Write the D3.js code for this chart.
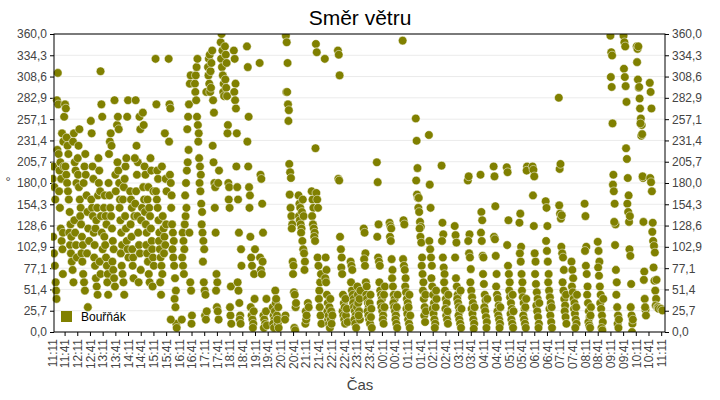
<!DOCTYPE html>
<html><head><meta charset="utf-8">
<script src="https://cdn.jsdelivr.net/npm/d3@7"></script>
<style>body{margin:0;background:#fff}svg{font-family:"Liberation Sans",Arial,sans-serif}</style>
</head><body><svg id="c" width="720" height="400"></svg>
<script>
const title = "Směr větru";
const seriesName = "Bouřňák";
const xTitle = "Čas";
const yTitle = "°";
const yTicks = [0, 25.7, 51.4, 77.1, 102.9, 128.6, 154.3, 180, 205.7, 231.4, 257.1, 282.9, 308.6, 334.3, 360];
const startHour = 11, startMinute = 11; // minute offsets counted from 11:11
const tickMinutes = d3.range(0, 1441, 30);
// [minutes since 11:11, wind direction in degrees]
const observations = [
[2,185],[4,200],[6,175],[8,160],[3,115],[5,95],[7,80],[9,60],[10,50],[12,280],[14,313],[15,275],[13,220],[16,215],[18,195],[20,205],[22,185],[17,170],[19,150],[21,125],[23,110],[25,100],[26,120],[28,200],[27,230],[24,240],[29,260],[11,40],[26,70],
[31,275],[33,270],[35,235],[37,225],[39,215],[32,200],[34,190],[36,180],[38,170],[40,160],[42,145],[44,130],[41,120],[43,105],[45,95],[47,85],[49,75],[46,115],[50,230],[52,240],[54,205],[56,195],[58,180],[53,135],[55,120],[57,105],[59,90],[51,60],
[61,210],[63,225],[65,245],[62,190],[64,175],[66,160],[68,150],[67,140],[69,130],[71,115],[73,105],[70,95],[72,85],[74,70],[76,60],[78,50],[75,180],[77,200],[79,215],[80,190],[82,165],[84,145],[86,125],[88,110],[83,95],[85,30],
[92,255],[94,240],[96,200],[98,185],[93,160],[95,150],[97,140],[99,120],[101,105],[100,90],[102,80],[104,65],[106,55],[108,45],[103,125],[105,135],[107,150],[109,165],[111,180],[110,210],[112,195],[114,170],[116,140],[118,120],[120,100],[113,85],[115,70],[117,275],[119,260],[115,315],
[123,150],[125,165],[127,140],[129,130],[124,115],[126,105],[128,90],[130,80],[132,70],[131,60],[133,45],[135,215],[137,230],[139,240],[141,225],[134,180],[136,165],[138,150],[140,140],[142,125],[144,110],[146,100],[143,85],[145,75],[147,65],[149,55],[148,280],[150,190],[151,170],
[154,250],[156,260],[158,245],[155,205],[157,195],[159,180],[161,160],[160,150],[162,135],[164,120],[166,105],[163,95],[165,80],[167,70],[169,60],[171,45],[168,160],[170,175],[172,185],[174,200],[176,210],[173,140],[175,125],[177,110],[179,100],[181,90],[178,260],[180,280],
[185,170],[187,160],[189,150],[186,130],[188,115],[190,100],[192,90],[191,80],[193,65],[195,140],[197,155],[199,170],[201,190],[203,205],[196,210],[198,280],[200,225],[202,140],[204,120],[206,105],[208,95],[210,75],[205,60],[207,260],[209,245],[211,135],[213,150],
[215,265],[217,250],[219,200],[221,190],[216,175],[218,160],[220,145],[222,130],[224,120],[223,105],[225,95],[227,85],[229,70],[231,60],[226,160],[228,175],[230,150],[232,140],[234,125],[236,110],[233,210],[235,195],[237,100],[239,90],[241,80],[238,55],[240,170],
[245,330],[247,275],[249,195],[251,185],[246,170],[248,160],[250,150],[252,135],[254,120],[253,110],[255,100],[257,90],[259,80],[261,70],[256,60],[258,45],[260,200],[262,140],[264,125],[266,115],[268,105],[265,95],[267,240],[269,185],[271,170],[270,130],
[276,330],[278,275],[280,270],[277,230],[279,190],[281,180],[283,165],[282,150],[284,130],[286,120],[288,110],[285,100],[287,90],[289,80],[291,65],[293,50],[290,40],[292,30],[294,10],[295,5],[281,15],
[307,15],[309,120],[311,110],[313,100],[308,90],[310,80],[312,70],[314,130],[316,140],[318,150],[315,165],[317,180],[319,195],[321,205],[323,220],[320,245],[322,260],[324,275],[326,300],[328,310],[325,120],[327,60],[329,50],[331,20],[330,10],
[338,300],[340,310],[342,320],[344,330],[339,290],[341,280],[343,260],[345,250],[347,240],[346,230],[348,210],[350,200],[352,190],[349,180],[351,170],[353,155],[355,145],[354,130],[356,120],[358,110],[360,100],[357,85],[359,60],[361,50],[363,45],[362,20],[364,15],[366,25],[365,290],
[369,320],[371,330],[373,335],[370,310],[372,300],[374,290],[376,295],[375,315],[377,325],[379,340],[381,280],[383,265],[380,225],[382,205],[384,180],[386,175],[385,150],[387,120],[389,70],[391,60],[388,50],[390,30],[392,25],[394,15],[393,180],[395,195],
[399,350],[401,360],[403,340],[400,330],[402,320],[404,310],[406,300],[405,290],[407,285],[409,345],[411,335],[413,325],[410,305],[412,295],[414,285],[416,250],[415,240],[417,180],[419,175],[418,160],[420,150],[422,20],[424,10],[421,30],[423,55],
[430,340],[432,330],[434,300],[431,290],[433,280],[435,270],[437,240],[436,200],[438,175],[440,160],[442,120],[439,60],[441,50],[443,35],[445,20],[444,15],[446,10],[448,80],[447,100],
[461,345],[463,320],[465,260],[462,230],[464,200],[466,175],[468,165],[467,150],[469,115],[471,90],[473,80],[470,30],[472,20],[474,15],[476,10],[475,5],[477,25],[479,40],[478,70],[480,100],
[491,325],[493,190],[495,185],[497,155],[499,120],[492,90],[494,75],[496,70],[498,85],[500,20],[502,15],[504,10],[501,5],[506,25],[508,8],[507,40],
[522,30],[524,20],[526,15],[523,10],[525,5],[527,25],[529,35],[528,50],[530,40],[532,20],[534,10],[536,5],[533,15],[535,30],
[553,358],[555,350],[557,325],[554,290],[556,290],[558,275],[560,268],[559,255],[561,203],[563,193],[565,186],[562,166],[564,150],[566,140],[568,130],[567,125],[569,85],[571,80],[570,70],[572,48],[574,45],[573,5],[575,2],[576,30],[577,35],[552,20],[551,15],
[583,165],[585,155],[587,150],[584,140],[586,135],[588,130],[590,125],[589,120],[591,145],[593,160],[595,140],[592,110],[594,100],[596,95],[598,85],[597,75],[599,10],[601,15],[600,25],[602,20],[605,35],[607,30],
[614,170],[616,160],[618,150],[615,140],[617,130],[619,125],[621,120],[620,115],[622,110],[624,348],[626,338],[623,222],[625,168],[627,160],[629,150],[628,90],[630,80],[632,50],[631,40],[633,30],[635,20],[637,10],[634,60],[636,70],
[645,330],[647,90],[649,75],[646,65],[648,60],[650,45],[652,35],[651,25],[653,15],[655,10],[657,5],[654,20],[656,30],[658,40],[660,25],[659,15],[661,10],[663,20],
[676,340],[678,335],[680,310],[677,185],[679,183],[681,115],[683,100],[685,90],[684,78],[686,70],[688,45],[690,35],[687,25],[689,20],[691,15],[693,10],[692,30],[694,40],[695,20],[697,28],[699,12],
[706,85],[708,80],[710,75],[707,60],[709,50],[711,45],[713,40],[712,35],[714,30],[716,25],[718,20],[715,15],[717,10],[719,5],[721,30],[723,45],[722,55],[724,35],[726,25],[728,15],[725,20],[727,40],[729,50],
[737,125],[739,120],[741,95],[738,88],[740,80],[742,60],[744,55],[743,45],[745,40],[747,35],[749,30],[746,25],[748,20],[750,15],[752,10],[751,35],[753,45],[755,28],[754,18],[756,5],
[768,205],[770,181],[772,130],[769,115],[771,90],[773,85],[775,80],[774,60],[776,50],[778,45],[780,40],[777,35],[779,30],[781,25],[783,20],[782,15],[784,10],[786,30],[785,45],[787,55],
[798,132],[800,128],[802,125],[799,115],[801,110],[803,88],[805,75],[804,65],[806,55],[808,45],[810,40],[807,35],[809,30],[811,25],[813,20],[812,15],[814,10],[816,5],[815,30],[817,45],
[829,352],[831,135],[833,130],[830,88],[832,80],[834,75],[836,65],[835,55],[837,48],[839,40],[841,35],[838,28],[840,22],[842,15],[844,10],[843,30],[845,45],[847,20],[846,5],
[860,258],[862,231],[864,198],[861,183],[863,166],[865,162],[867,162],[866,150],[868,145],[870,133],[872,127],[869,125],[871,115],[873,108],[875,90],[874,80],[876,70],[878,60],[877,50],[879,40],[881,30],[880,20],[882,12],[884,25],[883,45],
[891,238],[893,178],[895,150],[892,110],[894,100],[896,90],[898,80],[897,65],[899,55],[901,45],[903,35],[900,28],[902,22],[904,15],[906,10],[905,5],[907,30],[909,40],[908,50],
[921,201],[923,132],[925,118],[922,110],[924,90],[926,78],[928,70],[927,60],[929,50],[931,40],[933,35],[930,28],[932,20],[934,15],[936,10],[935,25],[937,45],
[952,128],[954,117],[956,108],[953,90],[955,65],[957,55],[959,45],[958,40],[960,35],[962,30],[964,25],[961,20],[963,15],[965,10],[967,5],[966,50],[968,28],
[983,183],[985,188],[987,118],[984,110],[986,95],[988,90],[990,76],[989,60],[991,50],[993,42],[995,35],[992,28],[994,22],[996,15],[998,10],[997,4],[999,30],
[1013,190],[1015,145],[1017,135],[1014,120],[1016,110],[1018,92],[1020,90],[1019,70],[1021,58],[1023,45],[1025,38],[1022,30],[1024,25],[1026,18],[1028,12],[1027,5],[1029,40],
[1044,200],[1046,188],[1048,152],[1045,115],[1047,112],[1049,92],[1051,70],[1050,55],[1052,45],[1054,40],[1056,32],[1053,25],[1055,20],[1057,15],[1059,10],[1058,5],[1060,30],
[1075,199],[1077,193],[1079,135],[1076,105],[1078,80],[1080,70],[1082,60],[1081,50],[1083,42],[1085,35],[1087,28],[1084,22],[1086,15],[1088,10],[1090,5],[1089,45],[1091,25],
[1105,132],[1107,143],[1109,103],[1106,95],[1108,85],[1110,70],[1112,60],[1111,50],[1113,42],[1115,35],[1117,28],[1114,20],[1116,15],[1118,10],[1120,5],[1119,30],[1121,40],[1123,200],[1122,195],
[1136,200],[1138,196],[1140,188],[1137,165],[1139,128],[1141,95],[1143,85],[1142,70],[1144,58],[1146,48],[1148,40],[1145,32],[1147,25],[1149,18],[1151,10],[1150,5],[1152,35],
[1167,158],[1169,150],[1171,128],[1168,110],[1170,98],[1172,85],[1174,70],[1173,60],[1175,50],[1177,42],[1179,35],[1176,28],[1178,20],[1180,12],[1182,5],[1181,30],
[1198,283],[1200,197],[1202,203],[1199,153],[1201,143],[1203,137],[1205,141],[1204,103],[1206,95],[1208,90],[1210,75],[1207,60],[1209,50],[1211,40],[1213,32],[1212,25],[1214,18],[1216,10],[1215,45],
[1228,85],[1230,75],[1232,65],[1229,55],[1231,48],[1233,40],[1235,35],[1234,28],[1236,22],[1238,15],[1240,10],[1237,5],[1239,30],[1241,45],
[1259,155],[1261,140],[1263,103],[1260,98],[1262,80],[1264,70],[1266,55],[1265,45],[1267,35],[1269,25],[1271,18],[1268,12],[1270,8],[1272,5],[1274,30],[1273,20],
[1290,109],[1292,98],[1294,85],[1291,78],[1293,68],[1295,55],[1297,45],[1296,35],[1298,28],[1300,20],[1302,12],[1299,5],[1301,2],[1303,40],
[1320,358],[1322,338],[1324,334],[1321,308],[1323,296],[1325,252],[1327,190],[1326,178],[1328,170],[1330,155],[1332,130],[1329,133],[1331,105],[1333,75],[1335,60],[1334,45],[1336,30],[1338,20],[1337,10],[1339,5],[1340,15],
[1351,358],[1353,350],[1355,345],[1352,318],[1354,308],[1356,297],[1358,278],[1357,222],[1359,209],[1361,186],[1363,165],[1360,155],[1362,145],[1364,133],[1366,140],[1365,100],[1367,92],[1369,58],[1368,30],[1370,20],[1372,10],[1371,0],[1373,15],
[1382,345],[1384,342],[1386,345],[1383,326],[1385,305],[1387,295],[1389,282],[1388,296],[1390,270],[1392,258],[1394,250],[1391,252],[1393,237],[1395,239],[1397,186],[1396,188],[1398,133],[1400,73],[1399,63],[1401,40],[1403,27],[1402,30],[1404,20],
[1413,301],[1415,290],[1417,270],[1414,186],[1416,181],[1418,170],[1420,132],[1419,121],[1421,110],[1423,104],[1425,96],[1422,78],[1424,62],[1426,50],[1428,40],[1427,32],[1429,63],[1431,30],[1433,30],[1434,28],
[1440,28],[1443,26]
];

const color = "#808000";
const svg = d3.select("#c");
const L = 54, R = 665, T = 34, B = 332;
const x = d3.scaleLinear().domain([5, 1449]).range([L, R]);
const y = d3.scaleLinear().domain([0, 360]).range([B, T]);
const fmtTime = m => { const t = startHour*60 + startMinute + m; const h = Math.floor(t/60)%24, mm = t%60; return String(h).padStart(2,"0")+":"+String(mm).padStart(2,"0"); };
const fmtY = v => v.toFixed(1).replace(".", ",");

svg.append("g").selectAll("line").data(yTicks).join("line")
  .attr("x1", L).attr("x2", R).attr("y1", d => y(d)).attr("y2", d => y(d))
  .attr("stroke", "#ebebeb").attr("stroke-width", 1);

const styleAxis = g => { g.selectAll("text").attr("fill", "#444").style("font-size", "12px"); g.selectAll("line").attr("stroke", "#000"); g.select(".domain").remove(); };
svg.append("g").attr("transform", `translate(${L},0)`).call(d3.axisLeft(y).tickValues(yTicks).tickFormat(fmtY).tickSize(4).tickPadding(3)).call(styleAxis);
svg.append("g").attr("transform", `translate(${R},0)`).call(d3.axisRight(y).tickValues(yTicks).tickFormat(fmtY).tickSize(4).tickPadding(3)).call(styleAxis);
const xa = svg.append("g").attr("transform", `translate(0,${B})`).call(d3.axisBottom(x).tickValues(tickMinutes).tickFormat(fmtTime).tickSize(4)).call(styleAxis);
xa.selectAll(".tick line").filter(d => x(d) < L).remove();
xa.selectAll("text").attr("transform", "rotate(-90)").attr("text-anchor", "end").attr("x", -7).attr("y", 0).attr("dy", "0.35em");

const plot = svg.append("g");
plot.append("clipPath").attr("id", "clip").append("rect").attr("x", L - 3).attr("y", T).attr("width", R - L + 3).attr("height", B - T);
plot.append("g").attr("clip-path", "url(#clip)").selectAll("circle").data(observations).join("circle")
  .attr("cx", d => x(d[0])).attr("cy", d => y(d[1])).attr("r", 4.3)
  .attr("fill", color).attr("stroke", "#fff").attr("stroke-width", 0.5);

svg.append("rect").attr("x", L).attr("y", T).attr("width", R - L).attr("height", B - T).attr("fill", "none").attr("stroke", "#000");

svg.append("rect").attr("x", 61).attr("y", 311).attr("width", 11).attr("height", 11).attr("fill", color);
svg.append("text").attr("x", 81).attr("y", 321).style("font-size", "12px").attr("fill", "#000").text(seriesName);

svg.append("text").attr("x", 360).attr("y", 25).attr("text-anchor", "middle").style("font-size", "21px").attr("fill", "#000").text(title);
svg.append("text").attr("x", 360).attr("y", 390).attr("text-anchor", "middle").style("font-size", "15px").attr("fill", "#444").text(xTitle);
svg.append("text").attr("x", 8).attr("y", 186).attr("text-anchor", "middle").style("font-size", "13px").attr("fill", "#444").text(yTitle);
</script></body></html>
